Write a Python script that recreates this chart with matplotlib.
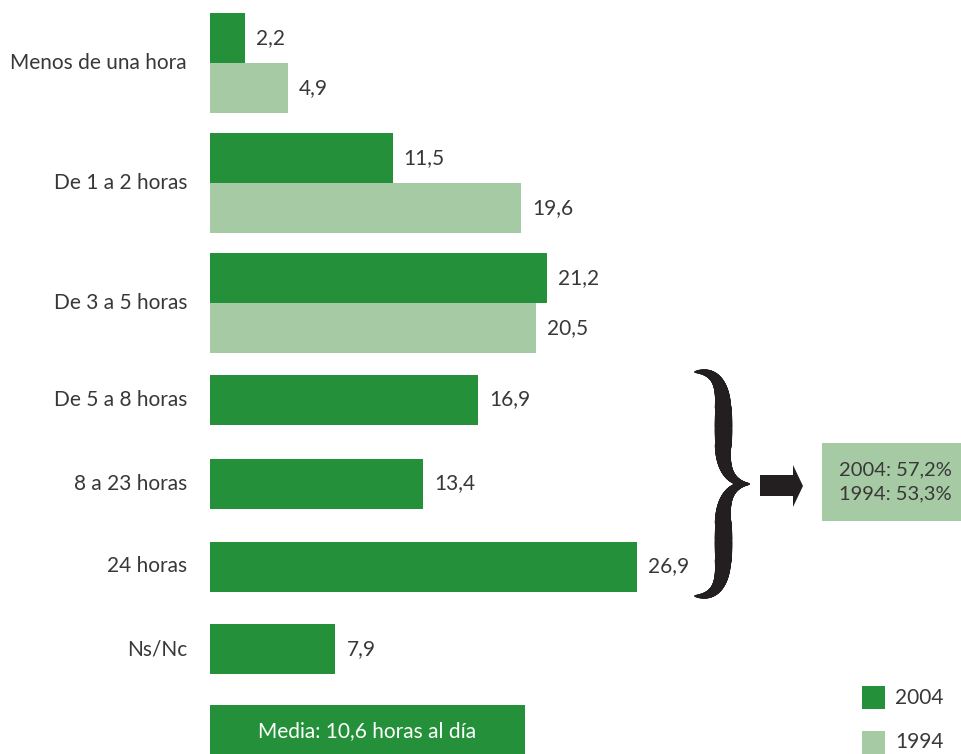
import matplotlib
matplotlib.use("Agg")
import matplotlib.pyplot as plt
from matplotlib.collections import LineCollection
from matplotlib.patches import Polygon, Rectangle
import numpy as np

# data
categories = ["Menos de una hora", "De 1 a 2 horas", "De 3 a 5 horas",
              "De 5 a 8 horas", "8 a 23 horas", "24 horas", "Ns/Nc"]
values_2004 = [2.2, 11.5, 21.2, 16.9, 13.4, 26.9, 7.9]
values_1994 = [4.9, 19.6, 20.5, None, None, None, None]
summary_lines = ["2004: 57,2%", "1994: 53,3%"]
media_text = "Media: 10,6 horas al día"
legend_labels = ["2004", "1994"]

# layout (pixel rows of each group centre, bar height in px)
W, H = 961, 754
group_y = [63, 183, 303, 399.5, 483.5, 566.5, 649]
bar_h = 50
px_per_unit = 15.88
x0 = 210

DARK = "#24913a"
LIGHT = "#a6caa3"
TXT = "#383838"
INK = "#231f20"
FS = 15

plt.rcParams["font.family"] = ["Lato", "DejaVu Sans"]

fig = plt.figure(figsize=(W / 100, H / 100), dpi=100)
ax = fig.add_axes([x0 / W, 0, (W - x0) / W, 1])
ax.set_xlim(0, (W - x0) / px_per_unit)
ax.set_ylim(H, 0)
ax.axis("off")

ov = fig.add_axes([0, 0, 1, 1], zorder=3)
ov.set_xlim(0, W)
ov.set_ylim(H, 0)
ov.axis("off")
ov.patch.set_alpha(0)


def fmt(v):
    return f"{v:.1f}".replace(".", ",")


pad = 11 / px_per_unit
for cat, yc, v04, v94 in zip(categories, group_y, values_2004, values_1994):
    if v94 is None:
        ax.barh(yc, v04, height=bar_h, color=DARK)
        ax.text(v04 + pad, yc, fmt(v04), va="center", ha="left", fontsize=FS, color=TXT)
    else:
        y04, y94 = yc - bar_h / 2, yc + bar_h / 2
        ax.barh(y04, v04, height=bar_h, color=DARK)
        ax.barh(y94, v94, height=bar_h, color=LIGHT)
        ax.text(v04 + pad, y04, fmt(v04), va="center", ha="left", fontsize=FS, color=TXT)
        ax.text(v94 + pad, y94, fmt(v94), va="center", ha="left", fontsize=FS, color=TXT)
    ov.text(187, yc, cat, ha="right", va="center", fontsize=FS, color=TXT)

# media box
ov.add_patch(Rectangle((210, 705), 315, 50, color=DARK, lw=0))
ov.text(367.5, 731, media_text, ha="center", va="center", fontsize=FS, color="white")


# curly brace: tapered stroke made of short segments
def bez(p0, p1, p2, p3, n=80):
    t = np.linspace(0, 1, n)[:, None]
    p0, p1, p2, p3 = map(np.array, (p0, p1, p2, p3))
    return (1 - t) ** 3 * p0 + 3 * (1 - t) ** 2 * t * p1 + 3 * (1 - t) * t ** 2 * p2 + t ** 3 * p3


tip_y = 484
upper = np.vstack([
    bez((695, 372), (716, 370), (723, 385), (723, 408)),
    np.column_stack([np.full(40, 723.0), np.linspace(408, 448, 40)])[1:],
    bez((723, 448), (723, 474), (734, 484), (749, tip_y))[1:],
])
lower = upper.copy()
lower[:, 1] = 2 * tip_y - lower[:, 1]
d = np.sqrt((np.diff(upper, axis=0) ** 2).sum(axis=1))
s = np.cumsum(d) / d.sum() - d / (2 * d.sum())
w_px = 1.5 + 16 * np.sin(np.pi * s) ** 0.8
for half in (upper, lower):
    segs = np.stack([half[:-1], half[1:]], axis=1)
    ov.add_collection(LineCollection(segs, linewidths=w_px * 0.72, colors=INK,
                                     capstyle="round"))

# block arrow
ov.add_patch(Polygon([(760, 475), (793, 475), (793, 465), (803, 486),
                      (793, 507), (793, 496), (760, 496)], closed=True,
                     color=INK, lw=0))

# summary box
ov.add_patch(Rectangle((822, 443), W - 822, 78, color=LIGHT, lw=0))
ov.text(895, 470, summary_lines[0], ha="center", va="center", fontsize=14.5, color=TXT)
ov.text(895, 494, summary_lines[1], ha="center", va="center", fontsize=14.5, color=TXT)

# legend
for lab, col, ly in zip(legend_labels, [DARK, LIGHT], [697.5, 742.5]):
    ov.add_patch(Rectangle((862, ly - 11.5), 23, 23, color=col, lw=0))
    ov.text(895, ly, lab, ha="left", va="center", fontsize=FS, color=TXT)

fig.savefig("out.png", dpi=100)
